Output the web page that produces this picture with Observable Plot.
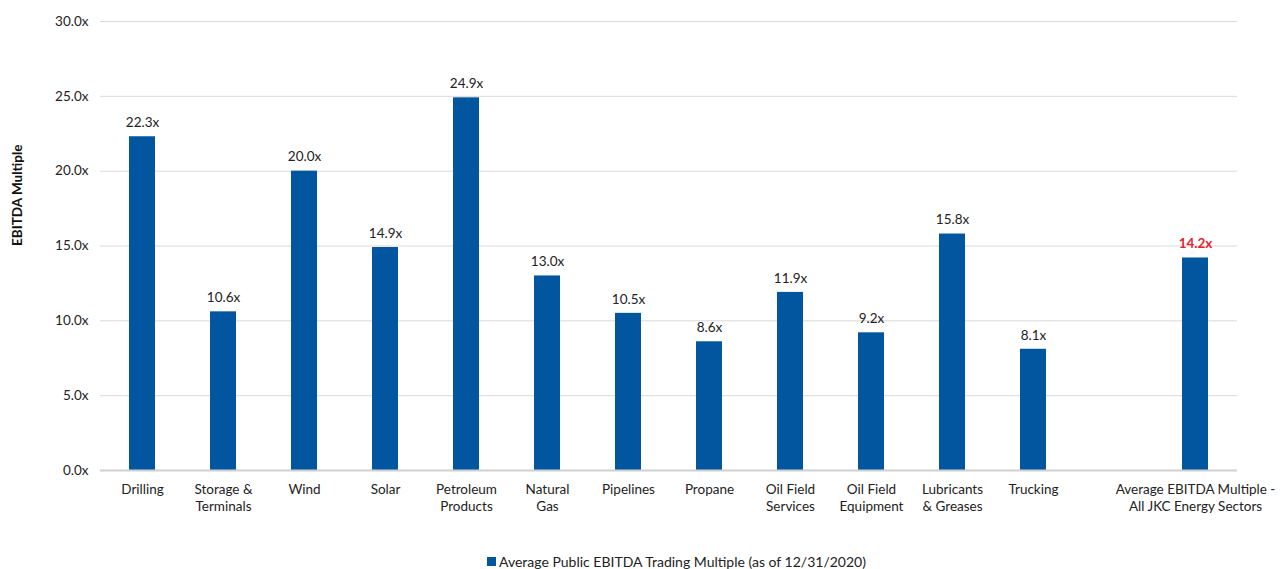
<!DOCTYPE html>
<html>
<head>
<meta charset="utf-8">
<script src="https://cdn.jsdelivr.net/npm/d3@7"></script>
<script src="https://cdn.jsdelivr.net/npm/@observablehq/plot@0.6"></script>
<style>
  html, body { margin: 0; padding: 0; background: #fff; }
  body { width: 1280px; height: 569px; position: relative; overflow: hidden; font-family: Lato, "Noto Sans", sans-serif; }
  #chart { position: absolute; left: 0; top: 0; }
  #legend { position: absolute; left: 487px; top: 553px; font-size: 14px; color: #222; display: flex; align-items: center; white-space: nowrap; }
  #legend .sw { width: 9px; height: 9px; background: #02559F; margin-right: 3px; display: inline-block; }
</style>
</head>
<body>
<div id="chart"></div>
<div id="legend"><span class="sw"></span><span>Average Public EBITDA Trading Multiple (as of 12/31/2020)</span></div>
<script>
const categories = [
  "Drilling", "Storage &\nTerminals", "Wind", "Solar", "Petroleum\nProducts",
  "Natural\nGas", "Pipelines", "Propane", "Oil Field\nServices", "Oil Field\nEquipment",
  "Lubricants\n& Greases", "Trucking", " ", "Average EBITDA Multiple -\nAll JKC Energy Sectors"
];
const values = [22.3, 10.6, 20.0, 14.9, 24.9, 13.0, 10.5, 8.6, 11.9, 9.2, 15.8, 8.1, null, 14.2];
const highlight = [false, false, false, false, false, false, false, false, false, false, false, false, false, true];
const yTicks = [0, 5, 10, 15, 20, 25, 30];
const seriesName = "Average Public EBITDA Trading Multiple (as of 12/31/2020)";

const data = categories.map((c, i) => ({cat: c, value: values[i], hi: highlight[i]})).filter(d => d.value != null);
const normal = data.filter(d => !d.hi);
const hi = data.filter(d => d.hi);

const chart = Plot.plot({
  width: 1280,
  height: 545,
  marginTop: 21,
  marginBottom: 75,
  marginLeft: 100,
  marginRight: 43,
  style: {fontFamily: "Lato, 'Noto Sans', sans-serif", fontSize: "13.5px", color: "#222"},
  x: {domain: categories, paddingInner: 0.68, paddingOuter: 0.345, label: null},
  y: {domain: [0, 30], label: null},
  marks: [
    Plot.gridY(yTicks.filter(t => t > 0), {stroke: "#d9d9d9", strokeOpacity: 1, strokeWidth: 1}),
    Plot.barY(data, {x: "cat", y: "value", fill: "#02559F"}),
    Plot.ruleY([0], {stroke: "#d0d0d0", strokeWidth: 2}),
    Plot.text(normal, {x: "cat", y: "value", text: d => d.value.toFixed(1) + "x", dy: -14, fill: "#222", fontSize: 13.5}),
    Plot.text(hi, {x: "cat", y: "value", text: d => d.value.toFixed(1) + "x", dy: -14, fill: "#E8222B", fontWeight: "bold", fontSize: 13.5}),
    Plot.axisY({ticks: yTicks, tickSize: 0, tickPadding: 12, tickFormat: d => d.toFixed(1) + "x", label: null, fontSize: 13.5}),
    Plot.axisX({tickSize: 0, tickPadding: 12, label: null, lineHeight: 1.22, fontSize: 13.5}),
    Plot.text(["EBITDA Multiple"], {frameAnchor: "left", dx: -83, rotate: -90, fontWeight: "bold", fontSize: 13.5, fill: "#111"})
  ]
});
document.getElementById("chart").appendChild(chart);
</script>
</body>
</html>
